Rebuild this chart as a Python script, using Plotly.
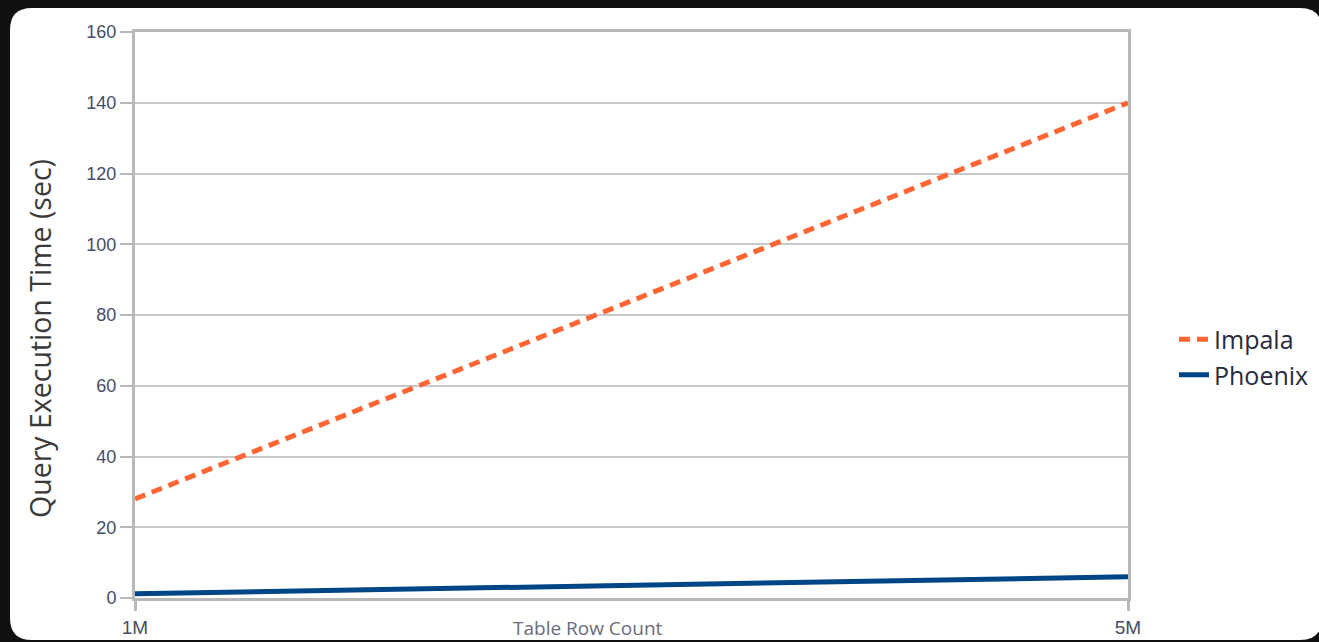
import plotly.graph_objects as go

x_vals = [1, 5]
x_ticktext = ["1M", "5M"]
impala = [28, 140]
phoenix = [1.2, 6]
y_ticks = [0, 20, 40, 60, 80, 100, 120, 140, 160]

W, H = 1319, 642
ML, MR, MT, MB = 135, W - 1128, 32, H - 598
PW, PH = W - ML - MR, H - MT - MB

def px(x):
    return (x - ML) / PW

def py(y):
    return (H - MB - y) / PH

fig = go.Figure()
fig.add_trace(go.Scatter(x=x_vals, y=impala, mode="lines", name="Impala",
                         line=dict(color="#ff6633", width=5, dash="11px,7px")))
fig.add_trace(go.Scatter(x=x_vals, y=phoenix, mode="lines", name="Phoenix",
                         line=dict(color="#004586", width=5)))

# white rounded card
L, T, R, B, r = 10, 8, 1322, 640, 22
path = (f"M {px(L+r)},{py(T)} L {px(R-r)},{py(T)} Q {px(R)},{py(T)} {px(R)},{py(T+r)} "
        f"L {px(R)},{py(B-r)} Q {px(R)},{py(B)} {px(R-r)},{py(B)} "
        f"L {px(L+r)},{py(B)} Q {px(L)},{py(B)} {px(L)},{py(B-r)} "
        f"L {px(L)},{py(T+r)} Q {px(L)},{py(T)} {px(L+r)},{py(T)} Z")
fig.add_shape(type="path", path=path, xref="paper", yref="paper",
              fillcolor="white", line=dict(width=0), layer="below")

fig.add_annotation(text="Query Execution Time (sec)", textangle=-90,
                   x=px(40), y=py(339), xref="paper", yref="paper",
                   xanchor="center", yanchor="middle", showarrow=False,
                   font=dict(family="Open Sans, sans-serif", size=28.5, color="#3a3a3a"))
fig.add_annotation(text="Table Row Count",
                   x=px(588), y=py(628), xref="paper", yref="paper",
                   xanchor="center", yanchor="middle", showarrow=False,
                   font=dict(family="Open Sans, sans-serif", size=19, color="#6b6b7a"))

y_tick_font = dict(family="Liberation Sans, Arial, sans-serif", size=18, color="#464c66")
x_tick_font = dict(family="Liberation Sans, Arial, sans-serif", size=19, color="#464c66")

fig.update_layout(
    width=W, height=H,
    autosize=False,
    margin=dict(l=ML, r=MR, t=MT, b=MB, autoexpand=False),
    paper_bgcolor="#111111",
    plot_bgcolor="rgba(0,0,0,0)",
    showlegend=True,
    legend=dict(x=px(1174), y=py(357), xanchor="left", yanchor="middle",
                font=dict(family="Open Sans, sans-serif", size=25, color="#2a2a3a"),
                bgcolor="rgba(0,0,0,0)", tracegroupgap=0, itemwidth=30),
    xaxis=dict(range=[1, 5], tickvals=x_vals, ticktext=x_ticktext, automargin=False,
               showgrid=False, showline=True, linecolor="#b8b8b8", linewidth=3,
               mirror=True, ticks="outside", ticklen=10, tickwidth=3, tickcolor="#b8b8b8",
               tickfont=x_tick_font, zeroline=False, ticklabelstandoff=0),
    yaxis=dict(range=[0, 160], tickvals=y_ticks, showgrid=True, gridcolor="#c8c8c8", gridwidth=2,
               automargin=False,
               showline=True, linecolor="#b8b8b8", linewidth=3, mirror=True,
               ticks="outside", ticklen=12, tickwidth=2, tickcolor="#b8b8b8",
               tickfont=y_tick_font, zeroline=False),
)

fig.write_html("out.html", config={"displayModeBar": False},
               post_script="document.body.style.margin='0';document.body.style.background='#111111';")
